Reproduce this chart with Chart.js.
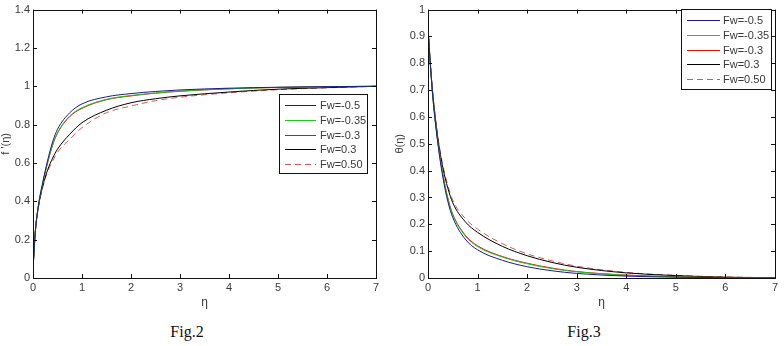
<!DOCTYPE html>
<html>
<head>
<meta charset="utf-8">
<script src="https://cdn.jsdelivr.net/npm/chart.js@4.4.1/dist/chart.umd.min.js"></script>
<style>
  body { margin: 0; background: #fff; width: 784px; height: 346px; overflow: hidden; position: relative; }
  .box { position: absolute; top: 0; width: 392px; height: 320px; }
  .cap { position: absolute; top: 323px; font: 16px "Liberation Serif", "DejaVu Serif", serif; color: #111; transform: translateX(-50%); }
</style>
</head>
<body>
<div class="box" style="left:0"><canvas id="fig2"></canvas></div>
<div class="box" style="left:392px"><canvas id="fig3"></canvas></div>
<div class="cap" style="left:187px">Fig.2</div>
<div class="cap" style="left:584px">Fig.3</div>
<script>
// eta grid shared by both figures
const eta = [0, 0.05, 0.1, 0.2, 0.3, 0.4, 0.5, 0.75, 1, 1.5, 2, 2.5, 3, 4, 5, 6, 7];
const fwLabels = ['Fw=-0.5', 'Fw=-0.35', 'Fw=-0.3', 'Fw=0.3', 'Fw=0.50'];
const lineColors = ['#1c1c8f', '#22c422', '#dd1111', '#000000', '#d05a5a'];

// Fig.2 f'(eta)
const velNeg05  = [0.05, 0.25, 0.36, 0.50, 0.615, 0.71, 0.776, 0.862, 0.908, 0.945, 0.962, 0.973, 0.981, 0.990, 0.995, 0.998, 1.0];
const velNeg035 = [0.05, 0.25, 0.36, 0.495, 0.605, 0.695, 0.758, 0.845, 0.888, 0.932, 0.952, 0.965, 0.975, 0.987, 0.994, 0.998, 1.0];
const velNeg03  = [0.05, 0.25, 0.36, 0.495, 0.603, 0.692, 0.755, 0.842, 0.885, 0.930, 0.950, 0.964, 0.974, 0.987, 0.994, 0.998, 1.0];
const velPos03  = [0.05, 0.25, 0.355, 0.48, 0.565, 0.625, 0.672, 0.75, 0.81, 0.875, 0.914, 0.935, 0.95, 0.970, 0.985, 0.993, 1.0];
const velPos05  = [0.05, 0.25, 0.35, 0.475, 0.555, 0.61, 0.655, 0.724, 0.784, 0.862, 0.897, 0.925, 0.943, 0.966, 0.982, 0.992, 1.0];

// Fig.3 theta(eta)
const tmpNeg05  = [0.93, 0.79, 0.67, 0.50, 0.375, 0.285, 0.225, 0.145, 0.105, 0.066, 0.042, 0.027, 0.017, 0.007, 0.003, 0.001, 0.0];
const tmpNeg035 = [0.93, 0.79, 0.67, 0.505, 0.385, 0.295, 0.235, 0.157, 0.117, 0.078, 0.053, 0.035, 0.023, 0.010, 0.004, 0.002, 0.001];
const tmpNeg03  = [0.93, 0.79, 0.67, 0.505, 0.387, 0.298, 0.238, 0.160, 0.120, 0.080, 0.055, 0.037, 0.024, 0.011, 0.005, 0.002, 0.001];
const tmpPos03  = [0.93, 0.79, 0.68, 0.52, 0.41, 0.335, 0.28, 0.21, 0.170, 0.118, 0.083, 0.058, 0.040, 0.019, 0.009, 0.003, 0.001];
const tmpPos05  = [0.93, 0.79, 0.68, 0.525, 0.42, 0.345, 0.29, 0.222, 0.182, 0.128, 0.090, 0.064, 0.044, 0.021, 0.010, 0.004, 0.001];

const tickFont = { family: '"Liberation Sans", Arial, sans-serif', size: 11 };
const textGray = '#3a3a3a';

function makeSets(series) {
    return series.map((vals, i) => ({
        label: fwLabels[i],
        data: vals.map((v, j) => ({ x: eta[j], y: v })),
        borderColor: lineColors[i],
        borderWidth: 1,
        borderDash: i === 4 ? [6, 4] : [],
        pointRadius: 0,
        cubicInterpolationMode: 'monotone',
        fill: false
    }));
}

// matlab style box with inward ticks on all four sides
const boxTicks = {
    id: 'boxTicks',
    afterDraw(chart) {
        const { ctx, chartArea: a, scales } = chart;
        ctx.save();
        ctx.strokeStyle = '#111';
        ctx.lineWidth = 1;
        ctx.strokeRect(Math.round(a.left) + 0.5, Math.round(a.top) + 0.5, Math.round(a.right - a.left), Math.round(a.bottom - a.top));
        const len = 4;
        ctx.beginPath();
        scales.x.ticks.forEach(t => {
            const px = Math.round(scales.x.getPixelForValue(t.value)) + 0.5;
            ctx.moveTo(px, a.bottom); ctx.lineTo(px, a.bottom - len);
            ctx.moveTo(px, a.top); ctx.lineTo(px, a.top + len);
        });
        scales.y.ticks.forEach(t => {
            const py = Math.round(scales.y.getPixelForValue(t.value)) + 0.5;
            ctx.moveTo(a.left, py); ctx.lineTo(a.left + len, py);
            ctx.moveTo(a.right, py); ctx.lineTo(a.right - len, py);
        });
        ctx.stroke();
        ctx.restore();
    }
};

// legend box drawn inside the plot at a fixed spot
const boxLegend = {
    id: 'boxLegend',
    afterDraw(chart, args, opts) {
        const { ctx } = chart;
        const b = opts.rect;
        ctx.save();
        ctx.fillStyle = '#fff';
        ctx.fillRect(b[0], b[1], b[2], b[3]);
        ctx.strokeStyle = '#111';
        ctx.lineWidth = 1;
        ctx.strokeRect(b[0] + 0.5, b[1] + 0.5, b[2], b[3]);
        ctx.font = '11px "Liberation Sans", Arial, sans-serif';
        ctx.textBaseline = 'middle';
        chart.data.datasets.forEach((ds, i) => {
            const y = Math.round(opts.rowY + i * opts.rowGap) + 0.5;
            ctx.strokeStyle = ds.borderColor;
            ctx.setLineDash(ds.borderDash);
            ctx.beginPath();
            ctx.moveTo(opts.lineX[0], y);
            ctx.lineTo(opts.lineX[1], y);
            ctx.stroke();
            ctx.setLineDash([]);
            ctx.fillStyle = textGray;
            ctx.fillText(ds.label, opts.textX, y);
        });
        ctx.restore();
    }
};

// 0, 0.2, 1, 1.4 ... like matlab, no trailing zeros
const tickText = v => String(+v.toFixed(2));

function buildChart(id, series, yMax, yStep, yTitle, pad, yWidth, titlePad, legendOpts) {
    return new Chart(document.getElementById(id), {
        type: 'line',
        data: { datasets: makeSets(series) },
        plugins: [boxTicks, boxLegend],
        options: {
            responsive: true,
            maintainAspectRatio: false,
            animation: false,
            layout: { padding: pad },
            plugins: {
                legend: { display: false },
                tooltip: { enabled: false },
                boxLegend: legendOpts
            },
            scales: {
                x: {
                    type: 'linear', min: 0, max: 7,
                    ticks: { stepSize: 1, font: tickFont, color: textGray, padding: 3, maxRotation: 0, callback: tickText },
                    grid: { display: false, drawTicks: false },
                    border: { display: false },
                    title: { display: true, text: 'η', font: { family: tickFont.family, size: 12 }, color: textGray, padding: { top: 0, bottom: 10 } },
                    afterFit(s) { s.height = 42; }
                },
                y: {
                    min: 0, max: yMax,
                    ticks: { stepSize: yStep, font: tickFont, color: textGray, padding: 3, callback: tickText },
                    grid: { display: false, drawTicks: false },
                    border: { display: false },
                    title: { display: true, text: yTitle, font: { family: tickFont.family, size: 11, lineHeight: 1 }, color: textGray, padding: { top: titlePad, bottom: 0 } },
                    afterFit(s) { s.width = yWidth; }
                }
            }
        }
    });
}

buildChart('fig2', [velNeg05, velNeg035, velNeg03, velPos03, velPos05], 1.4, 0.2, "f '(η)",
    { left: 0, right: 16, top: 8, bottom: 0 }, 33, 0,
    { rect: [279, 94, 88, 79], rowY: 105, rowGap: 14.75, lineX: [285, 316], textX: 320 });

buildChart('fig3', [tmpNeg05, tmpNeg035, tmpNeg03, tmpPos03, tmpPos05], 1, 0.1, 'θ(η)',
    { left: 0, right: 9, top: 7, bottom: 0 }, 36, 2.5,
    { rect: [289, 9, 90, 80], rowY: 20, rowGap: 14.8, lineX: [295, 328], textX: 331 });
</script>
</body>
</html>
